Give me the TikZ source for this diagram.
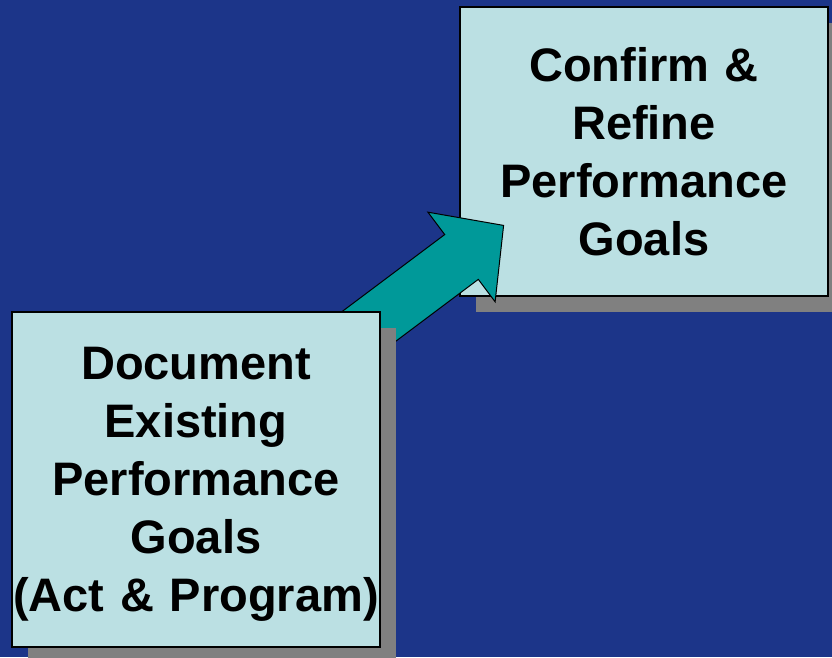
\documentclass[tikz,border=0pt]{standalone}
\usepackage{fontspec}
\setmainfont{Liberation Sans}
\usetikzlibrary{shadows}
\definecolor{slideblue}{RGB}{28,53,137}
\definecolor{boxcyan}{RGB}{187,224,227}
\definecolor{arrowteal}{RGB}{0,153,153}
\definecolor{shadowgray}{RGB}{128,128,128}

\begin{document}
\begin{tikzpicture}[x=1pt,y=-1pt,
    goalbox/.style={rectangle,draw=black,line width=1.2pt,fill=boxcyan,
      minimum width=368pt,inner sep=1pt,text width=366pt,align=center,
      font=\bfseries\fontsize{47}{58}\selectfont,
      copy shadow={shadow xshift=16pt,shadow yshift=-16pt,draw=none,fill=shadowgray}}]
      \fill[slideblue] (0,0) rectangle (832,657);
      \useasboundingbox (0,0) rectangle (832,657);
      \clip (0,0) rectangle (832,657);
      \node[goalbox,minimum height=289pt] (refine) at (644,151.5) {Confirm \&\\ Refine\\ Performance\\ Goals};
      \coordinate (tip) at (503.6,225.4);
      \begin{scope}[shift={(tip)},rotate=36.87]
      \path[draw,fill=arrowteal,line width=1pt,line join=miter]
        (0,0) -- (-52.6,56) -- (-52.6,28) -- (-200,28) -- (-200,-28) -- (-52.6,-28) -- (-52.6,-56) -- cycle;
      \end{scope}
      \node[goalbox,minimum height=335pt] (existing) at (196,479.5) {Document\\ Existing\\ Performance\\ Goals\\ \smash{(Act \& Program)}};
    \end{tikzpicture}
\end{document}
